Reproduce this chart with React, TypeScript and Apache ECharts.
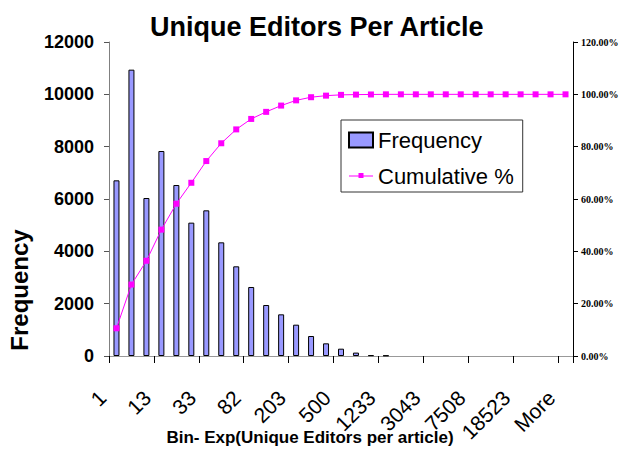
import React, { useEffect, useRef } from "react";
import * as echarts from "echarts";

// Bin upper edges (exponential bins); every third one is printed on the axis
const binLabels = [
  "1", "2", "5", "13", "18", "24", "33", "45", "60", "82", "111", "150",
  "203", "274", "370", "500", "675", "911", "1233", "1665", "2250", "3043",
  "4108", "5550", "7508", "10135", "13700", "18523", "25000", "34000", "More",
];

// Number of articles falling in each bin
const frequency = [
  6713, 10943, 6038, 7834, 6535, 5096, 5567, 4344, 3427, 2637, 1949, 1592,
  1197, 764, 484, 280, 130, 30, 20, 0, 0, 0, 0, 0, 0, 0, 0, 0, 0, 0, 0,
];

// Running share of articles, in percent
const cumulativePct = [
  10.6, 27.3, 36.4, 48.3, 58.2, 66.2, 74.5, 81.3, 86.6, 90.6, 93.3, 95.7,
  97.7, 98.9, 99.5, 99.8, 99.9, 99.95, 100, 100, 100, 100, 100, 100, 100,
  100, 100, 100, 100, 100, 100,
];

const freqTicks = { min: 0, max: 12000, interval: 2000 };
const pctTicks = { min: 0, max: 120, interval: 20 };

const SANS = '"Liberation Sans", Arial, Helvetica, sans-serif';
const SERIF = '"Liberation Serif", "Times New Roman", serif';

// legend key for the cumulative line: thin stroke with a small square,
// padded with zero-length moves so the 24x15 box is not stretched
const lineKeyIcon =
  "path://M0,0L0,0M24,15L24,15M0,7L24,7L24,8L0,8ZM9.5,4.5L14.5,4.5L14.5,9.5L9.5,9.5Z";

export default function App() {
  const ref = useRef<HTMLDivElement>(null);

  useEffect(() => {
    if (!ref.current) return;
    const chart = echarts.init(ref.current, null, { renderer: "svg" });
    chart.setOption({
      animation: false,
      backgroundColor: "#ffffff",
      title: {
        text: "Unique Editors Per Article",
        left: 150,
        top: 13,
        padding: 0,
        textStyle: {
          fontFamily: SANS,
          fontSize: 27,
          fontWeight: "bold",
          color: "#000",
        },
      },
      grid: {
        left: 109,
        right: 46,
        top: 42,
        bottom: 93,
        containLabel: false,
        outerBoundsMode: "none",
      },
      legend: {
        orient: "vertical",
        left: 341,
        top: 120,
        padding: [9, 9, 5, 7],
        itemGap: 14,
        itemWidth: 24,
        itemHeight: 15,
        borderColor: "#333",
        borderWidth: 1,
        backgroundColor: "#fff",
        textStyle: { fontFamily: SANS, fontSize: 22, color: "#000" },
        data: [
          { name: "Frequency", icon: "rect" },
          { name: "Cumulative %", icon: lineKeyIcon },
        ],
      },
      xAxis: [
        {
          type: "category",
          data: binLabels,
          boundaryGap: true,
          axisLine: { lineStyle: { color: "#000", width: 1 } },
          axisTick: { show: true, length: 7, lineStyle: { color: "#000" } },
          axisLabel: {
            interval: 2,
            rotate: 45,
            margin: 24,
            padding: [0, 20, 0, 0],
            fontFamily: SANS,
            fontSize: 21,
            color: "#000",
          },
          splitLine: { show: false },
        },
        {
          // plain grey rule along the top of the plot area
          type: "category",
          data: binLabels,
          position: "top",
          axisLine: { lineStyle: { color: "#999", width: 1 } },
          axisTick: { show: false },
          axisLabel: { show: false },
          splitLine: { show: false },
        },
      ],
      yAxis: [
        {
          type: "value",
          ...freqTicks,
          position: "left",
          axisLine: { show: true, lineStyle: { color: "#808080" } },
          axisTick: { show: true, length: 5, lineStyle: { color: "#555" } },
          axisLabel: {
            margin: 15,
            fontFamily: SANS,
            fontSize: 18,
            fontWeight: "bold",
            color: "#000",
            formatter: (v: number) => String(v),
          },
          splitLine: { show: false },
        },
        {
          type: "value",
          ...pctTicks,
          position: "right",
          axisLine: { show: true, lineStyle: { color: "#000" } },
          axisTick: { show: true, length: 5, lineStyle: { color: "#000" } },
          axisLabel: {
            margin: 8,
            fontFamily: SERIF,
            fontSize: 10,
            fontWeight: "bold",
            color: "#000",
            formatter: (v: number) => v.toFixed(2) + "%",
          },
          splitLine: { show: false },
        },
      ],
      series: [
        {
          name: "Frequency",
          type: "bar",
          xAxisIndex: 0,
          yAxisIndex: 0,
          // empty bins draw nothing
          data: frequency.map((v) => (v === 0 ? null : v)),
          barWidth: 6,
          itemStyle: { color: "#9999ff", borderColor: "#000", borderWidth: 1 },
        },
        {
          name: "Cumulative %",
          type: "line",
          xAxisIndex: 0,
          yAxisIndex: 1,
          data: cumulativePct,
          symbol: "rect",
          symbolSize: 6,
          lineStyle: { color: "#ff00ff", width: 1 },
          itemStyle: { color: "#ff00ff" },
        },
      ],
      graphic: [
        {
          type: "text",
          x: 19,
          y: 290,
          rotation: Math.PI / 2,
          style: {
            text: "Frequency",
            fontFamily: SANS,
            fontSize: 24,
            fontWeight: "bold",
            fill: "#000",
            align: "center",
            verticalAlign: "middle",
          },
        },
        {
          type: "text",
          x: 310,
          y: 437,
          style: {
            text: "Bin- Exp(Unique Editors per article)",
            fontFamily: SANS,
            fontSize: 17,
            fontWeight: "bold",
            fill: "#000",
            align: "center",
            verticalAlign: "middle",
          },
        },
      ],
    });
    return () => chart.dispose();
  }, []);

  return (
    <div
      ref={ref}
      style={{ position: "fixed", left: 0, top: 0, width: 619, height: 449 }}
    />
  );
}
